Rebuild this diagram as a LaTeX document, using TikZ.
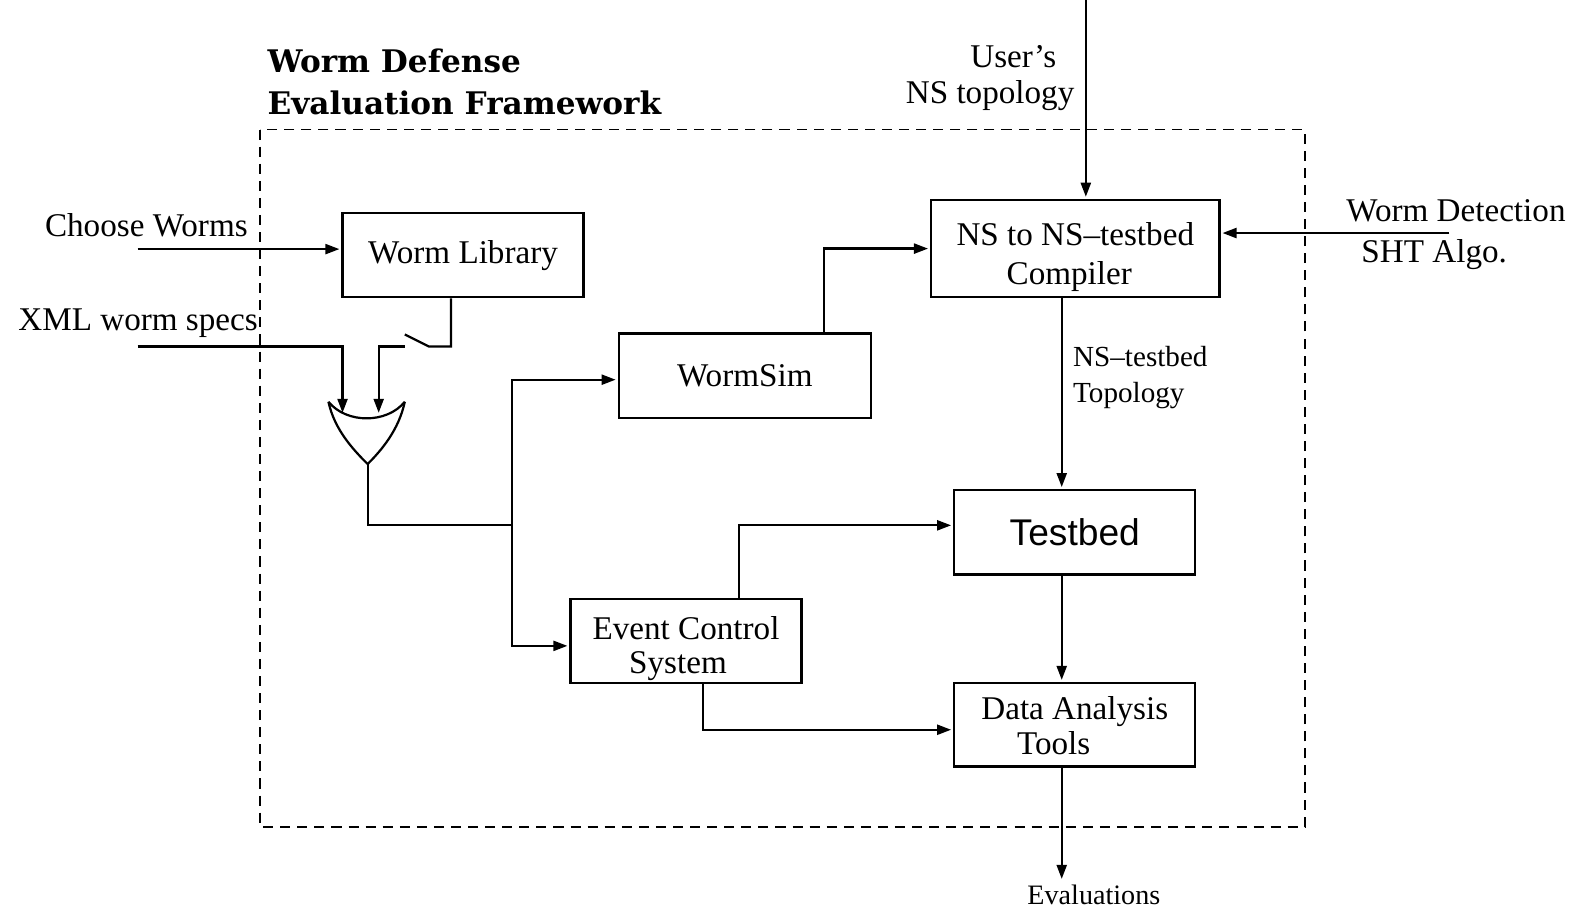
\documentclass[tikz,border=0pt]{standalone}
\usepackage{fontspec}
\setmainfont{Liberation Serif}
\newfontfamily\titlefont{DejaVu Serif}
\newfontfamily\sansf{Liberation Sans}
\usetikzlibrary{arrows.meta,calc}
\begin{document}
\begin{tikzpicture}[x=0.5pt,y=-0.5pt,
  every node/.style={font=\fontsize{16.5}{19.5}\selectfont},
  box/.style={draw,line width=1.1pt,rectangle,align=center,inner sep=0pt},
  wire/.style={line width=1.1pt},
  arr/.style={wire,-{Triangle[length=7pt,width=5pt]},shorten >=1pt},
  lbl/.style={inner sep=0pt},
  frame/.style={line width=0.9pt,dash pattern=on 5pt off 3.5pt}]
\useasboundingbox (0,0) rectangle (1568,909);
\fill[white] (0,0) rectangle (1568,909);

% frame and title
\draw[frame] (259,129) rectangle (1299,823);
\node[lbl,anchor=base west,font=\titlefont\bfseries\fontsize{15.5}{18}\selectfont] (t1) at (266,72) {Worm Defense};
\node[lbl,anchor=base west,font=\titlefont\bfseries\fontsize{15.5}{18}\selectfont] (t2) at (266,114) {Evaluation Framework};

% boxes
\node[box,minimum width=120pt,minimum height=42pt] (lib) at (461,254) {Worm Library};
\node[box,minimum width=125.5pt,minimum height=42pt] (sim) at (741.5,374) {WormSim};
\node[box,minimum width=143.5pt,minimum height=48.5pt] (comp) at (1070.5,247.5)
  {\raisebox{-4.25pt}[\height][\depth]{\begin{tabular}{@{}c@{}}NS to NS–testbed\\Compiler\hspace*{6pt}\end{tabular}}};
\node[box,minimum width=120pt,minimum height=42pt,font=\sansf\fontsize{18.5}{22}\selectfont] (tb) at (1070,530) {Testbed};
\node[box,minimum width=115pt,minimum height=42pt] (ecs) at (683,638)
  {\raisebox{-4.5pt}[\height][\depth]{\fontsize{16.5}{17}\selectfont\begin{tabular}{@{}c@{}}Event Control\\System\hspace*{8pt}\end{tabular}}};
\node[box,minimum width=120pt,minimum height=41.5pt] (dat) at (1070,721.5)
  {\raisebox{-2.5pt}[\height][\depth]{\fontsize{16.5}{17.5}\selectfont\begin{tabular}{@{}c@{}}Data Analysis\\Tools\hspace*{21pt}\end{tabular}}};

% outside labels
\node[lbl,anchor=base east] (cwl) at (247,235) {Choose Worms};
\node[lbl,anchor=base east] (xmll) at (257,329) {XML worm specs};
\node[lbl,anchor=base east] (usr1) at (1052,67) {User’s};
\node[lbl,anchor=base east] (usr2) at (1070,103) {NS topology};
\node[lbl,anchor=base west] (wd1) at (1340,221) {Worm Detection};
\node[lbl,anchor=base west] (wd2) at (1355,261) {SHT Algo.};
\node[lbl,anchor=base west,font=\fontsize{14.5}{17}\selectfont] (nst1) at (1068,365) {NS–testbed};
\node[lbl,anchor=base west,font=\fontsize{14.5}{17}\selectfont] (nst2) at (1068,401) {Topology};
\node[anchor=north,inner sep=2pt,font=\fontsize{14}{17}\selectfont] (eval) at (1089,877) {Evaluations};

% coordinates
\coordinate (cw) at (137,248);
\coordinate (xml) at (137,345);
\coordinate (g1) at (341,413);
\coordinate (g2) at (377,413);
\coordinate (gtl) at (327,400);
\coordinate (gtr) at (403,400);
\coordinate (gout) at (366,462);
\coordinate (j) at (510,523);
\coordinate (sw) at (449,345);
\coordinate (swh) at (427,345);
\coordinate (swt) at (403,333);
\coordinate (swc) at (403,345);
\coordinate (usr) at (1081,0);
\coordinate (wd) at (1443,232);
\coordinate (xc) at (1057,0);

% OR gate
\draw[wire] (gtl) .. controls (345,422) and (385,422) .. (gtr);
\draw[wire] (gtl) .. controls (333,428) and (352,448) .. (gout);
\draw[wire] (gtr) .. controls (397,428) and (380,448) .. (gout);

% connectors
\draw[arr] (cw) -- (cw -| lib.west);
\draw[arr] (xml) -| (g1);
\draw[wire] (sw |- lib.south) -- (sw) -- (swh) -- (swt);
\draw[arr] (swc) -| (g2);
\draw[wire] (gout) |- (j);
\draw[arr] (j) |- ($(sim.west)+(0,4)$);
\draw[arr] (j) |- ($(ecs.west)+(0,5)$);
\draw[arr] ($(sim.north)+(78.5,0)$) |- (comp.west);
\draw[arr] (usr) -- (usr |- comp.north);
\draw[arr] (wd) -- (wd -| comp.east);
\draw[arr] (xc |- comp.south) -- (xc |- tb.north);
\draw[arr] ($(ecs.north)+(53,0)$) |- ($(tb.west)+(0,-7)$);
\draw[arr] (xc |- tb.south) -- (xc |- dat.north);
\draw[arr] ($(ecs.south)+(17,0)$) |- ($(dat.west)+(0,5)$);
\draw[arr] (xc |- dat.south) -- (xc |- eval.north);
\end{tikzpicture}
\end{document}
